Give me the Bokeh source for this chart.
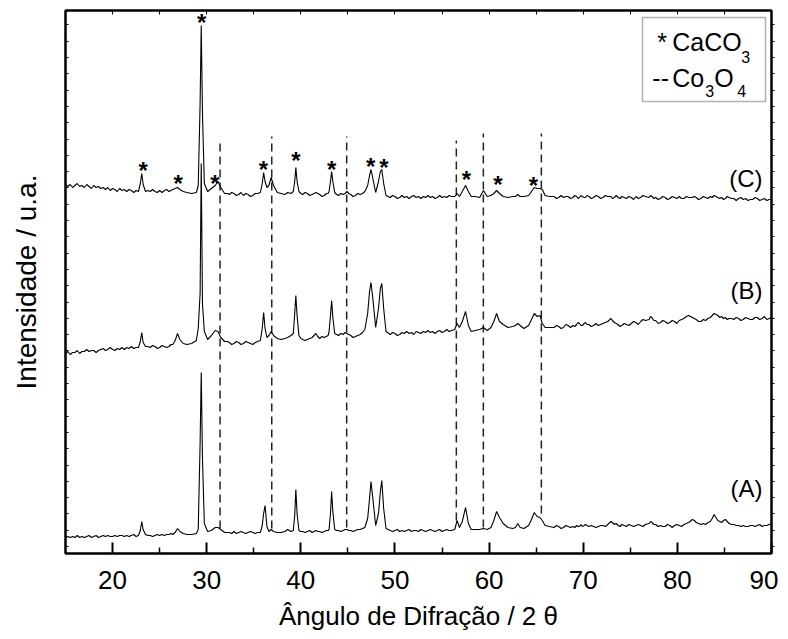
from bokeh.plotting import figure
from bokeh.models import Range1d, FixedTicker, LinearAxis, BoxAnnotation, Label, ColumnDataSource
from bokeh.core.properties import value
from bokeh.embed import file_html
from bokeh.resources import INLINE

FONT = "Liberation Sans"

# ---------------- data (intensity in arbitrary units) ----------------
two_theta = [
    15.0, 15.25, 15.5, 15.75, 16.0, 16.25, 16.5, 16.75, 17.0, 17.25, 17.5, 17.75, 18.0, 18.25, 18.5, 18.75,
    19.0, 19.25, 19.5, 19.75, 20.0, 20.25, 20.5, 20.75, 21.0, 21.25, 21.5, 21.75, 22.0, 22.25, 22.5,
    22.75, 22.95, 23.1, 23.25, 23.5,
    23.75, 24.0, 24.25, 24.5, 24.75, 25.0, 25.25, 25.5, 25.75, 26.0, 26.2, 26.4,
    26.65, 26.9, 27.15, 27.5,
    27.9, 28.4, 28.9, 29.1,
    29.3, 29.42, 29.55, 29.75,
    30.1, 30.5, 30.9, 31.2, 31.5, 31.9,
    32.2, 32.4, 32.65, 32.9, 33.15, 33.4, 33.65, 33.9, 34.15, 34.4, 34.65, 34.9, 35.15, 35.4,
    35.7, 35.9, 36.05, 36.2, 36.4,
    36.6, 36.85, 37.1, 37.5,
    37.9, 38.3, 38.6, 38.95,
    39.2, 39.35, 39.47, 39.6, 39.8,
    40.0, 40.2, 40.45, 40.7, 40.95, 41.2, 41.4, 41.6, 41.8, 42.0, 42.25, 42.5, 42.7, 42.9,
    43.0, 43.15, 43.27, 43.4, 43.6,
    43.8, 44.0, 44.25, 44.5, 44.7, 44.9, 45.1, 45.3, 45.55, 45.8, 46.05, 46.3, 46.55, 46.8,
    47.1, 47.3, 47.45, 47.65, 47.95, 48.25, 48.45, 48.6, 48.8, 49.05,
    49.5, 49.75, 50.0, 50.25, 50.5, 50.75, 51.0, 51.25, 51.5, 51.75, 52.0, 52.25, 52.5, 52.75,
    53.0, 53.25, 53.5, 53.75, 54.0, 54.25, 54.5, 54.75, 55.0, 55.25, 55.5, 55.75, 56.0,
    56.35, 56.6, 56.85, 57.15, 57.5, 57.8, 58.1,
    58.5, 59.0, 59.4, 59.8, 60.2,
    60.5, 60.8, 61.1, 61.5, 62.0, 62.5,
    62.8, 63.05, 63.3, 63.7, 64.2,
    64.5, 64.8, 65.1, 65.4, 65.65, 65.95, 66.4,
    66.9, 67.15, 67.4, 67.65, 67.9, 68.15, 68.4, 68.65, 68.9, 69.1, 69.3, 69.45, 69.6, 69.75,
    69.9, 70.1, 70.25, 70.4, 70.6, 70.85, 71.1, 71.35, 71.6, 71.85, 72.1, 72.35, 72.6,
    72.95, 73.1, 73.3, 73.5, 73.7, 73.9, 74.1, 74.35, 74.6, 74.85, 75.1, 75.35, 75.6, 75.85, 76.1, 76.35, 76.6,
    77.0, 77.15, 77.3, 77.5, 77.7, 77.95, 78.2, 78.45, 78.7, 78.95, 79.2, 79.45, 79.7, 79.95, 80.2, 80.45,
    80.7, 80.95, 81.2,
    81.6, 81.8, 82.0, 82.25, 82.5, 82.75, 83.0, 83.25, 83.5, 83.7, 83.9, 84.1, 84.3, 84.5, 84.7, 84.9,
    85.1, 85.3, 85.5,
    85.75, 86.0, 86.25, 86.5, 86.75, 87.0, 87.25, 87.5, 87.75, 88.0, 88.25, 88.5, 88.75, 89.0, 89.25,
    89.5, 89.75, 90.0,
]

int_A = [
    16, 17, 16, 17, 16, 18, 16, 17, 16, 17, 18, 16, 17, 18, 16, 17,
    18, 17, 18, 17, 17, 18, 17, 18, 18, 17, 18, 17, 18, 19, 17,
    18, 23, 32, 24, 19,
    18, 18, 17, 18, 19, 18, 19, 18, 19, 19, 20, 19,
    21, 25, 22, 20,
    19, 19, 20, 24,
    110, 181, 95, 30,
    22, 23, 26, 26, 24, 21,
    21, 21, 20, 22, 20, 21, 22, 21, 20, 21, 22, 21, 20, 21,
    21, 28, 40, 48, 27,
    22, 24, 22, 21,
    21, 22, 24, 22,
    23, 38, 64, 40, 23,
    22, 22, 21, 22, 23, 21, 22, 23, 22, 22, 21, 22, 23, 23,
    24, 40, 62, 42, 24,
    23, 23, 22, 23, 24, 24, 23, 23, 22, 23, 24, 24, 25, 26,
    35, 55, 72, 55, 28, 40, 62, 73, 45, 25,
    23, 22, 23, 24, 22, 23, 22, 23, 24, 22, 23, 23, 22, 24,
    23, 22, 23, 24, 23, 22, 23, 24, 22, 23, 24, 23, 23,
    24, 33, 26, 32, 46, 30, 24,
    24, 24, 25, 24, 26,
    33, 42, 36, 30, 26, 25,
    26, 30, 26, 25, 28,
    34, 41, 37, 36, 33, 28, 27,
    26, 28, 27, 25, 26, 28, 27, 26, 27, 26, 28, 27, 27, 29,
    27, 28, 29, 28, 27, 28, 27, 26, 27, 28, 28, 27, 29,
    32, 31, 29, 30, 28, 27, 29, 28, 27, 29, 28, 27, 28, 29, 28, 27, 29,
    30, 32, 31, 29, 29, 27, 28, 27, 27, 29, 28, 26, 28, 29, 28, 27,
    29, 30, 31,
    34, 33, 31, 30, 29, 30, 29, 31, 32, 35, 39, 36, 33, 32, 31, 33,
    34, 32, 30,
    29, 29, 28, 28, 27, 28, 27, 27, 28, 28, 27, 28, 29, 27, 28,
    28, 29, 30,
]

int_B = [
    200, 202, 199, 201, 201, 203, 200, 202, 202, 204, 202, 203, 203, 201, 203, 204,
    205, 203, 204, 206, 204, 203, 205, 204, 206, 204, 206, 205, 207, 205, 206,
    206, 212, 221, 211, 207,
    207, 206, 208, 207, 205, 206, 208, 207, 206, 207, 209, 209,
    213, 220, 214, 210,
    209, 210, 213, 225,
    260, 390, 250, 222,
    214, 218, 223, 222, 216, 212,
    212, 211, 209, 210, 212, 211, 209, 210, 212, 211, 210, 209, 211, 212,
    213, 225, 241, 225, 216,
    218, 222, 218, 215,
    214, 215, 216, 218,
    220, 240, 258, 238, 218,
    215, 214, 213, 214, 215, 216, 218, 220, 217, 215, 217, 216, 217, 218,
    222, 238, 253, 236, 220,
    219, 218, 220, 219, 221, 220, 219, 218, 216, 217, 218, 219, 221, 224,
    240, 262, 271, 255, 226, 245, 265, 270, 245, 222,
    219, 221, 220, 218, 219, 221, 220, 222, 220, 221, 219, 222, 221, 220,
    222, 221, 223, 221, 222, 220, 222, 223, 221, 222, 224, 222, 223,
    224, 230, 226, 232, 242, 228, 222,
    223, 224, 226, 223, 226,
    232, 240, 232, 229, 226, 227,
    228, 230, 228, 225, 228,
    234, 240, 237, 238, 230, 226, 226,
    226, 228, 227, 225, 226, 229, 228, 226, 228, 227, 229, 231, 230, 228,
    228, 230, 231, 229, 229, 227, 228, 230, 228, 229, 230, 231, 232,
    235, 233, 231, 230, 229, 227, 228, 230, 229, 228, 230, 232, 231, 229, 232, 234, 233,
    234, 237, 236, 233, 233, 230, 231, 233, 232, 230, 231, 233, 232, 230, 233, 234,
    235, 237, 238,
    236, 235, 234, 232, 232, 234, 233, 235, 236, 238, 240, 239, 238, 236, 237, 235,
    236, 234, 235,
    235, 234, 236, 235, 233, 234, 236, 235, 234, 234, 236, 236, 234, 235, 237,
    234, 235, 236,
]

int_C = [
    370, 367, 369, 366, 368, 370, 367, 368, 366, 369, 367, 365, 368, 366, 367, 365,
    366, 364, 366, 363, 365, 364, 362, 365, 363, 364, 362, 364, 363, 361, 363,
    362, 370, 380, 369, 362,
    363, 362, 364, 362, 361, 363, 361, 363, 364, 362, 363, 364,
    365, 366, 364, 362,
    361, 360, 361, 368,
    450, 528, 440, 370,
    362, 365, 368, 372, 366, 360,
    360, 359, 361, 360, 358, 359, 361, 358, 360, 359, 357, 358, 360, 360,
    361, 370, 381, 372, 366,
    368, 376, 368, 361,
    360, 359, 361, 360,
    362, 372, 386, 372, 362,
    360, 359, 361, 360, 358, 359, 360, 361, 360, 359, 357, 358, 360, 360,
    362, 372, 382, 372, 361,
    359, 358, 360, 359, 360, 362, 360, 359, 357, 358, 360, 359, 360, 362,
    368, 378, 384, 375, 361, 372, 382, 384, 370, 358,
    356, 358, 357, 355, 356, 358, 356, 357, 355, 357, 358, 356, 357, 355,
    357, 356, 358, 356, 357, 355, 356, 358, 356, 357, 356, 358, 357,
    357, 360, 357, 362, 368, 362, 357,
    357, 356, 363, 357, 358,
    360, 363, 360, 357, 356, 357,
    357, 359, 357, 357, 358,
    362, 366, 365, 365, 364, 358, 357,
    357, 355, 356, 358, 356, 357, 357, 355, 356, 358, 357, 355, 356, 358,
    357, 356, 356, 358, 357, 355, 356, 358, 357, 355, 356, 358, 357,
    357, 355, 356, 358, 356, 355, 357, 356, 355, 357, 356, 354, 357, 355, 356, 358, 357,
    356, 358, 357, 355, 356, 354, 355, 357, 356, 354, 355, 357, 356, 355, 357, 355,
    355, 357, 356,
    356, 357, 356, 354, 355, 357, 356, 355, 357, 356, 358, 357, 356, 355, 356, 354,
    355, 357, 356,
    355, 355, 353, 355, 356, 354, 355, 353, 354, 354, 356, 355, 353, 354, 355,
    353, 354, 354,
]

assert len(two_theta) == len(int_A) == len(int_B) == len(int_C)

# Co3O4 reflections (dashed lines)
co3o4_pos = [31.42, 36.91, 44.87, 56.52, 59.39, 65.55]
co3o4_top = [415, 417, 417, 413, 420, 420]
co3o4_bottom = [25, 25, 26, 33, 26, 40]

# CaCO3 markers (*) on pattern C
caco3_pos = [23.24, 26.96, 29.47, 30.86, 36.03, 39.49, 43.28, 47.42, 48.83, 57.58, 60.94, 64.70]
caco3_int = [388, 375, 536, 375, 389, 398, 389, 392, 391, 379, 374, 373]

# trace labels
trace_names = ["(A)", "(B)", "(C)"]
trace_label_y = [65, 263, 375]

x_major = [20, 30, 40, 50, 60, 70, 80, 90]
x_minor = [25, 35, 45, 55, 65, 75, 85]

# ---------------- figure ----------------
p = figure(x_range=Range1d(15, 90), y_range=Range1d(0, 543),
           frame_width=706, frame_height=543,
           min_border_left=65, min_border_right=7, min_border_top=10, min_border_bottom=80,
           output_backend="svg", toolbar_location=None)
p.grid.visible = False
p.outline_line_color = "black"
p.outline_line_width = 2
p.background_fill_color = "white"
p.border_fill_color = "white"

xt = FixedTicker(ticks=x_major, minor_ticks=x_minor)
yt = FixedTicker(ticks=[7 + 16.3 * k for k in range(33)], minor_ticks=[])

ax = p.xaxis[0]
ax.ticker = xt
ax.axis_line_width = 2
ax.major_tick_in = 11
ax.major_tick_out = 0
ax.minor_tick_in = 6
ax.minor_tick_out = 0
ax.major_tick_line_width = 2
ax.minor_tick_line_width = 1.5
ax.major_label_text_font = FONT
ax.major_label_text_font_size = "26px"
ax.major_label_text_color = "black"
ax.major_label_standoff = 17
ax.axis_label = "Ângulo de Difração / 2 θ"
ax.axis_label_text_font = FONT
ax.axis_label_text_font_size = "26px"
ax.axis_label_text_font_style = "normal"
ax.axis_label_text_color = "black"
ax.axis_label_standoff = 9

ay = p.yaxis[0]
ay.ticker = yt
ay.axis_line_width = 2
ay.major_tick_in = 3
ay.major_tick_out = 0
ay.minor_tick_in = 0
ay.minor_tick_out = 0
ay.major_label_text_font_size = "0px"
ay.major_label_text_color = None
ay.major_label_standoff = 0
ay.axis_label = "Intensidade / u.a."
ay.axis_label_text_font = FONT
ay.axis_label_text_font_size = "28px"
ay.axis_label_text_font_style = "normal"
ay.axis_label_text_color = "black"
ay.axis_label_standoff = 24

top_axis = LinearAxis(ticker=xt, major_tick_in=4, major_tick_out=0, minor_tick_in=4, minor_tick_out=0,
                      major_label_text_font_size="0px", major_label_text_color=None,
                      major_label_standoff=0, axis_line_width=2)
p.add_layout(top_axis, "above")
right_axis = LinearAxis(ticker=yt, major_tick_in=0, major_tick_out=3, minor_tick_in=0, minor_tick_out=0,
                        major_label_text_font_size="0px", major_label_text_color=None,
                        major_label_standoff=0, axis_line_width=2)
p.add_layout(right_axis, "right")

# dashed Co3O4 lines
p.segment(x0=co3o4_pos, y0=co3o4_bottom, x1=co3o4_pos, y1=co3o4_top,
          line_color="#222222", line_width=1.5, line_dash="8 5")

# diffraction patterns
for ys in (int_A, int_B, int_C):
    p.line(two_theta, ys, line_color="black", line_width=1.1)

# CaCO3 asterisks
star_src = ColumnDataSource(dict(x=caco3_pos, y=caco3_int, t=["*"] * len(caco3_pos)))
p.text(x="x", y="y", text="t", source=star_src, text_font=value(FONT), text_font_size="24px",
       text_font_style="bold", text_align="center", text_baseline="middle", y_offset=5,
       text_color="black")

# trace labels
for name, yy in zip(trace_names, trace_label_y):
    p.add_layout(Label(x=89.05, y=yy, text=name, text_align="right", text_baseline="middle",
                       text_font=FONT, text_font_size="24px", text_color="black"))

# legend box
p.add_layout(BoxAnnotation(left=76.3, right=89.36, bottom=452, top=536, fill_color="white", fill_alpha=1,
                           line_color="black", line_width=1.5))
legend_parts = [
    (77.87, 512, "*", "25px"),
    (79.46, 512, "CaCO", "25px"),
    (86.79, 497, "3", "16px"),
    (77.34, 476, "--", "25px"),
    (79.46, 476, "Co", "25px"),
    (82.96, 463, "3", "16px"),
    (83.92, 476, "O", "25px"),
    (86.36, 463, "4", "16px"),
]
for lx, ly, lt, fs in legend_parts:
    p.add_layout(Label(x=lx, y=ly, text=lt, text_align="left", text_baseline="middle",
                       text_font=FONT, text_font_size=fs, text_color="black"))

open("out.html", "w").write(file_html(p, INLINE))
